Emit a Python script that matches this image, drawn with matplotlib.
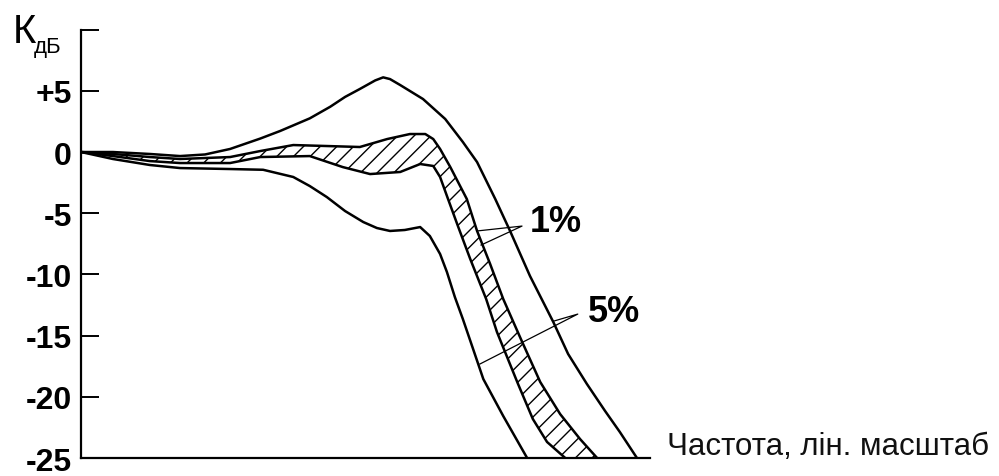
import numpy as np
import matplotlib.pyplot as plt

# frequency in arbitrary linear units (0..100), gain in dB
up_f = [0, 5.6, 12.1, 17.4, 21.8, 26.2, 31.5, 35.0, 40.2, 43.8, 46.4, 49.0, 51.7, 53.1, 54.3,
        56.1, 60.1, 64.0, 67.1, 69.6, 72.8, 75.4, 78.9, 83.0, 85.6, 88.9, 92.1, 94.7, 97.7]
up_db = [0, 0, -0.16, -0.33, -0.2, 0.25, 1.1, 1.72, 2.75, 3.7, 4.5, 5.15, 5.85, 6.1, 5.96,
         5.47, 4.33, 2.70, 0.82, -0.82, -3.84, -6.45, -10.13, -13.89, -16.5, -18.95, -21.16, -22.88, -25.0]

bt_f = [0, 5.6, 12.1, 17.4, 26.2, 31.5, 37.3, 43.2, 49.0, 53.8, 57.8, 60.5, 61.9, 63.1,
        64.9, 67.8, 69.6, 71.9, 74.2, 77.3, 80.7, 84.2, 87.7, 90.7]
bt_db = [0, -0.16, -0.41, -0.57, -0.41, 0.08, 0.57, 0.49, 0.41, 1.06, 1.47, 1.47, 1.06, 0.25,
         -1.23, -3.84, -6.45, -9.15, -12.01, -15.28, -18.79, -21.41, -23.45, -25.0]

bb_f = [0, 5.6, 12.1, 17.4, 26.2, 31.5, 40.2, 46.0, 50.8, 56.1, 59.6, 61.9, 63.1, 64.5,
        66.3, 68.4, 71.2, 73.1, 76.8, 79.4, 81.9, 85.1]
bb_db = [0, -0.33, -0.74, -0.90, -0.90, -0.41, -0.33, -1.23, -1.80, -1.63, -0.98, -1.14, -2.04, -3.84,
         -6.13, -8.74, -12.01, -14.71, -18.95, -21.81, -23.69, -25.0]

lo_f = [0, 5.6, 12.1, 17.4, 26.2, 32.0, 37.3, 40.2, 43.2, 46.4, 49.6, 52.0, 54.3, 56.9, 59.6, 61.3, 63.1,
        64.3, 65.7, 67.1, 68.9, 70.7, 74.2, 78.4]
lo_db = [0, -0.57, -1.06, -1.31, -1.39, -1.45, -2.04, -2.78, -3.68, -4.82, -5.72, -6.21, -6.45, -6.37,
         -6.13, -6.86, -8.33, -9.80, -11.85, -13.64, -16.09, -18.55, -21.57, -25.0]

yticks = [-25, -20, -15, -10, -5, 0, 5, 10]
ylabels = ['-25', '-20', '-15', '-10', '-5', '0', '+5', '']

fig = plt.figure(figsize=(9.99, 4.77), dpi=100)
ax = fig.add_axes([0.0811, 0.0377, 0.5696, 0.8981])

poly_f = np.concatenate([bt_f, bb_f[::-1]])
poly_db = np.concatenate([bt_db, bb_db[::-1]])
ax.fill(poly_f, poly_db, facecolor='none', edgecolor='black', hatch='//', linewidth=0)

for f, d in [(up_f, up_db), (bt_f, bt_db), (bb_f, bb_db), (lo_f, lo_db)]:
    ax.plot(f, d, color='black', linewidth=1.8, solid_joinstyle='round', solid_capstyle='round')

# leader lines
ax.plot([69.6, 77.5, 70.3], [-6.45, -6.05, -7.60], color='black', linewidth=0.9)
ax.plot([83.1, 87.3, 70.1], [-13.81, -13.24, -17.32], color='black', linewidth=0.9)
ax.text(78.9, -5.64, '1%', fontsize=26, fontweight='bold', family='Liberation Sans',
        va='center', ha='left')
ax.text(89.1, -13.07, '5%', fontsize=26, fontweight='bold', family='Liberation Sans',
        va='center', ha='left')

ax.set_xlim(0, 100)
ax.set_ylim(-25, 10)
ax.set_yticks(yticks)
ax.set_yticklabels(ylabels, fontsize=23, fontweight='bold', family='Liberation Sans')
ax.set_xticks([])
ax.tick_params(axis='y', direction='in', length=13, width=1.4, pad=6.5)
ax.spines['top'].set_visible(False)
ax.spines['right'].set_visible(False)
ax.spines['left'].set_linewidth(1.6)
ax.spines['bottom'].set_linewidth(1.6)
ax.patch.set_alpha(0)

fig.text(13/999, 1 - 43/477, 'К', fontsize=29, family='Liberation Sans', va='baseline', ha='left')
fig.text(34/999, 1 - 53/477, 'дБ', fontsize=16, family='Liberation Sans', va='baseline', ha='left')
fig.text(667/999, 1 - 455/477, 'Частота, лін. масштаб', fontsize=22.5, family='Liberation Sans',
         va='baseline', ha='left', color='#111111')

fig.savefig('out.png', dpi=100)
